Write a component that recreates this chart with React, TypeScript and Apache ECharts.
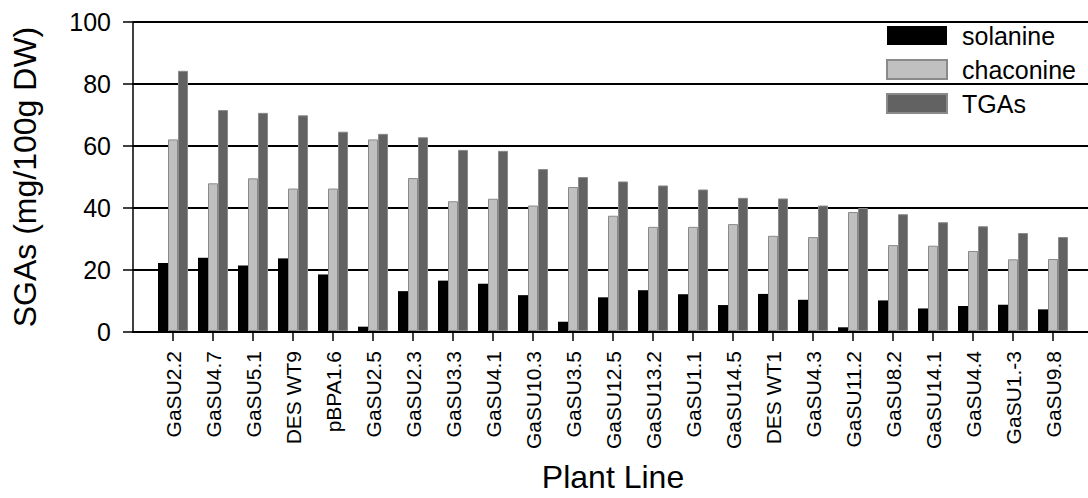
import React, { useEffect, useRef } from "react";
import * as echarts from "echarts";

const categories = [
  "GaSU2.2", "GaSU4.7", "GaSU5.1", "DES WT9", "pBPA1.6", "GaSU2.5", "GaSU2.3", "GaSU3.3",
  "GaSU4.1", "GaSU10.3", "GaSU3.5", "GaSU12.5", "GaSU13.2", "GaSU1.1", "GaSU14.5", "DES WT1",
  "GaSU4.3", "GaSU11.2", "GaSU8.2", "GaSU14.1", "GaSU4.4", "GaSU1.-3", "GaSU9.8",
];
const solanine = [22.0, 23.7, 21.2, 23.5, 18.3, 1.4, 12.9, 16.3, 15.3, 11.6, 3.0, 10.9, 13.2, 11.9, 8.4, 12.0, 10.1, 1.2, 9.9, 7.3, 8.1, 8.5, 7.0];
const chaconine = [62.0, 47.8, 49.4, 46.1, 46.1, 62.0, 49.5, 42.0, 42.8, 40.6, 46.6, 37.3, 33.7, 33.7, 34.6, 30.8, 30.4, 38.5, 27.8, 27.6, 25.9, 23.2, 23.3];
const tgas = [84.2, 71.5, 70.6, 69.8, 64.5, 63.8, 62.7, 58.6, 58.3, 52.4, 49.8, 48.4, 47.1, 45.8, 43.1, 42.9, 40.6, 39.8, 37.8, 35.2, 33.9, 31.7, 30.4];
const yTicks = { min: 0, max: 100, interval: 20 };

const FONT = "'Liberation Sans', Arial, sans-serif";

export default function App() {
  const ref = useRef<HTMLDivElement>(null);
  useEffect(() => {
    document.body.style.margin = "0";
    const chart = echarts.init(ref.current!, undefined, { renderer: "svg" });
    chart.setOption({
      animation: false,
      backgroundColor: "#fff",
      textStyle: { fontFamily: FONT, color: "#000" },
      legend: {
        orient: "vertical",
        left: 881,
        top: 18,
        itemWidth: 60,
        itemHeight: 19,
        itemGap: 9,
        icon: "rect",
        textStyle: { fontSize: 25, lineHeight: 24, color: "#000", fontFamily: FONT, padding: [0, 0, 0, 10] },
        data: ["solanine", "chaconine", "TGAs"],
      },
      grid: [
        { left: 133, right: 0, top: 22, bottom: 166 },
        { left: 153, right: 15, top: 22, bottom: 166 },
      ],
      xAxis: [
        {
          type: "value",
          gridIndex: 0,
          min: 0,
          max: 1,
          axisLine: { show: true, lineStyle: { color: "#000", width: 2 } },
          axisTick: { show: false },
          axisLabel: { show: false },
          splitLine: { show: false },
        },
        {
          type: "category",
          gridIndex: 1,
          data: categories,
          axisLine: { show: false },
          axisTick: { show: true, alignWithLabel: true, length: 10, lineStyle: { color: "#000", width: 1.5 } },
          axisLabel: { rotate: 90, fontSize: 21, color: "#000", fontFamily: FONT, margin: 20, interval: 0 },
          name: "Plant Line",
          nameLocation: "middle",
          nameGap: 130,
          nameTextStyle: { fontSize: 32, color: "#000", fontFamily: FONT },
        },
      ],
      yAxis: [
        {
          type: "value",
          gridIndex: 0,
          min: yTicks.min,
          max: yTicks.max,
          interval: yTicks.interval,
          axisLine: { show: true, lineStyle: { color: "#000", width: 1.5 } },
          axisTick: { show: true, length: 10, lineStyle: { color: "#000", width: 1.5 } },
          axisLabel: { fontSize: 25, color: "#000", fontFamily: FONT, margin: 22 },
          splitLine: { show: true, lineStyle: { color: "#000", width: 2 } },
          name: "SGAs (mg/100g DW)",
          nameLocation: "middle",
          nameGap: 92,
          nameTextStyle: { fontSize: 32, color: "#000", fontFamily: FONT },
        },
        {
          type: "value",
          gridIndex: 1,
          min: yTicks.min,
          max: yTicks.max,
          interval: yTicks.interval,
          show: false,
          splitLine: { show: false },
        },
      ],
      series: [
        {
          name: "solanine",
          type: "bar",
          xAxisIndex: 1,
          yAxisIndex: 1,
          data: solanine,
          barWidth: 10,
          barGap: "0%",
          itemStyle: { color: "#000", borderColor: "#000", borderWidth: 0 },
        },
        {
          name: "chaconine",
          type: "bar",
          xAxisIndex: 1,
          yAxisIndex: 1,
          data: chaconine,
          barWidth: 10,
          barGap: "0%",
          itemStyle: { color: "#c0c0c0", borderColor: "#8a8a8a", borderWidth: 1 },
        },
        {
          name: "TGAs",
          type: "bar",
          xAxisIndex: 1,
          yAxisIndex: 1,
          data: tgas,
          barWidth: 10,
          barGap: "0%",
          itemStyle: { color: "#626262", borderColor: "#8a8a8a", borderWidth: 1 },
        },
      ],
    });
    return () => chart.dispose();
  }, []);
  return <div ref={ref} style={{ width: 1088, height: 498 }} />;
}
